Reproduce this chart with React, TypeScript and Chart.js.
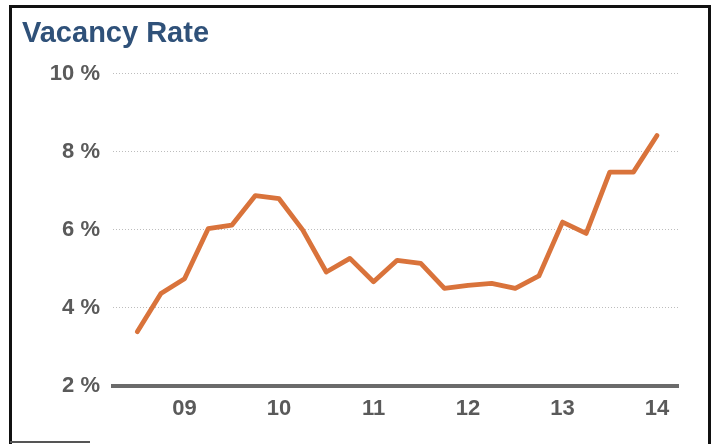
import React, { useEffect, useRef } from "react";
import { Chart, registerables } from "chart.js";

Chart.register(...registerables);

const quarters = [
  "2008 Q3", "2008 Q4",
  "2009 Q1", "2009 Q2", "2009 Q3", "2009 Q4",
  "2010 Q1", "2010 Q2", "2010 Q3", "2010 Q4",
  "2011 Q1", "2011 Q2", "2011 Q3", "2011 Q4",
  "2012 Q1", "2012 Q2", "2012 Q3", "2012 Q4",
  "2013 Q1", "2013 Q2", "2013 Q3", "2013 Q4",
  "2014 Q1",
];

const vacancyRate = [
  3.39, 4.37,
  4.75, 6.03, 6.12, 6.88,
  6.8, 6.0, 4.92, 5.27,
  4.67, 5.22, 5.14, 4.5,
  4.58, 4.63, 4.5, 4.82,
  6.2, 5.91, 7.48, 7.48,
  8.42,
];

const yearTicks = [2009, 2010, 2011, 2012, 2013, 2014];
const yearLabels = ["09", "10", "11", "12", "13", "14"];
const rateTicks = [2, 4, 6, 8, 10];

const quarterToX = (q: string) => {
  const [y, qq] = q.split(" ");
  return Number(y) + (Number(qq.slice(1)) - 1) / 4;
};

export default function App() {
  const canvasRef = useRef<HTMLCanvasElement | null>(null);

  useEffect(() => {
    const canvas = canvasRef.current;
    if (!canvas) return;
    const points = quarters.map((q, i) => ({ x: quarterToX(q), y: vacancyRate[i] }));
    const chart = new Chart(canvas, {
      type: "line",
      data: {
        datasets: [
          {
            label: "Vacancy Rate",
            data: points,
            borderColor: "#d9733b",
            borderWidth: 4.8,
            pointRadius: 0,
            tension: 0,
            borderJoinStyle: "round",
            borderCapStyle: "round",
          },
        ],
      },
      options: {
        responsive: false,
        maintainAspectRatio: false,
        animation: false,
        devicePixelRatio: 1,
        layout: { padding: { left: 22, right: 37, top: 0, bottom: 0 } },
        plugins: {
          legend: { display: false },
          tooltip: { enabled: false },
          title: {
            display: true,
            text: "Vacancy Rate",
            align: "start",
            color: "#2f5179",
            font: { family: "'Liberation Sans', Arial, sans-serif", size: 29, weight: "bold" },
            padding: { top: 17, bottom: 22 },
          },
        },
        scales: {
          x: {
            type: "linear",
            min: 2008.243,
            max: 2014.222,
            afterFit: (scale: any) => {
              scale.height = 58;
            },
            afterBuildTicks: (scale: any) => {
              scale.ticks = yearTicks.map((v) => ({ value: v }));
            },
            ticks: {
              color: "#5a5a5a",
              padding: 2,
              autoSkip: false,
              maxRotation: 0,
              font: { family: "'Liberation Sans', Arial, sans-serif", size: 22, weight: "bold" },
              callback: (v: any) => {
                const i = yearTicks.indexOf(Number(v));
                return i >= 0 ? yearLabels[i] : "";
              },
            },
            grid: { display: false },
            border: { display: true, color: "#6b6b6b", width: 4 },
          },
          y: {
            min: 2,
            max: 10,
            afterFit: (scale: any) => {
              scale.width = 91;
            },
            afterBuildTicks: (scale: any) => {
              scale.ticks = rateTicks.map((v) => ({ value: v }));
            },
            ticks: {
              color: "#5a5a5a",
              padding: 13,
              font: { family: "'Liberation Sans', Arial, sans-serif", size: 22, weight: "bold" },
              callback: (v: any) => `${v} %`,
            },
            grid: {
              drawTicks: false,
              lineWidth: 1,
              color: (ctx: any) => (ctx.tick && ctx.tick.value === 2 ? "rgba(0,0,0,0)" : "#bdbdbd"),
            },
            border: { display: false, dash: [1, 2] },
          },
        },
      },
    });
    return () => chart.destroy();
  }, []);

  return (
    <div style={{ position: "fixed", left: 0, top: 0, width: 715, height: 444, background: "#fff", overflow: "hidden" }}>
      <canvas ref={canvasRef} width={715} height={444} style={{ position: "absolute", left: 0, top: 0, width: 715, height: 444 }} />
      <div style={{ position: "absolute", left: 9, top: 5, width: 702, height: 3, background: "#111" }} />
      <div style={{ position: "absolute", left: 9, top: 5, width: 3, height: 439, background: "#111" }} />
      <div style={{ position: "absolute", left: 708, top: 5, width: 3, height: 439, background: "#111" }} />
      <div style={{ position: "absolute", left: 10, top: 441, width: 80, height: 2, background: "#555" }} />
    </div>
  );
}
